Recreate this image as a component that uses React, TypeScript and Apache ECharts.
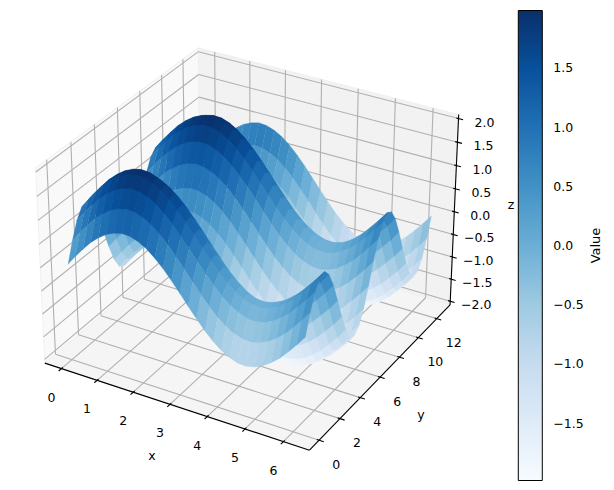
import { useEffect, useRef } from 'react';
import * as echarts from 'echarts';

const xValues = [0, 0.217, 0.433, 0.65, 0.867, 1.083, 1.3, 1.517, 1.733, 1.95, 2.167, 2.383, 2.6, 2.817, 3.033, 3.25, 3.467, 3.683, 3.9, 4.117, 4.333, 4.55, 4.767, 4.983, 5.2, 5.417, 5.633, 5.85, 6.067, 6.283];
const yValues = [0, 0.433, 0.867, 1.3, 1.733, 2.167, 2.6, 3.033, 3.467, 3.9, 4.333, 4.767, 5.2, 5.633, 6.067, 6.5, 6.933, 7.367, 7.8, 8.233, 8.667, 9.1, 9.533, 9.967, 10.4, 10.833, 11.267, 11.7, 12.133, 12.566];

// one row per y value, one column per x value
const zValues = [
  [0, .22, .42, .61, .76, .88, .96, 1, .99, .93, .83, .69, .52, .32, .11, -.11, -.32, -.52, -.69, -.83, -.93, -.99, -1, -.96, -.88, -.76, -.61, -.42, -.22, 0],
  [.42, .64, .84, 1.03, 1.18, 1.3, 1.38, 1.42, 1.41, 1.35, 1.25, 1.11, .94, .74, .53, .31, .1, -.1, -.27, -.41, -.51, -.57, -.58, -.54, -.46, -.34, -.19, 0, .2, .42],
  [.76, .98, 1.18, 1.37, 1.52, 1.64, 1.72, 1.76, 1.75, 1.69, 1.59, 1.45, 1.28, 1.08, .87, .65, .44, .24, .07, -.07, -.17, -.23, -.24, -.2, -.12, 0, .15, .34, .54, .76],
  [.96, 1.18, 1.38, 1.57, 1.72, 1.84, 1.92, 1.96, 1.95, 1.89, 1.79, 1.65, 1.48, 1.28, 1.07, .85, .64, .44, .27, .13, .03, -.03, -.04, 0, .08, .2, .35, .54, .74, .96],
  [.99, 1.21, 1.41, 1.6, 1.75, 1.87, 1.95, 1.99, 1.98, 1.92, 1.82, 1.68, 1.51, 1.31, 1.1, .88, .67, .47, .3, .16, .06, 0, -.01, .03, .11, .23, .38, .57, .77, .99],
  [.83, 1.05, 1.25, 1.44, 1.59, 1.71, 1.79, 1.83, 1.82, 1.76, 1.66, 1.52, 1.35, 1.15, .94, .72, .51, .31, .14, 0, -.1, -.16, -.17, -.13, -.05, .07, .22, .41, .61, .83],
  [.52, .74, .94, 1.13, 1.28, 1.4, 1.48, 1.52, 1.51, 1.45, 1.35, 1.21, 1.04, .84, .63, .41, .2, 0, -.17, -.31, -.41, -.47, -.48, -.44, -.36, -.24, -.09, .1, .3, .52],
  [.11, .33, .53, .72, .87, .99, 1.07, 1.11, 1.1, 1.04, .94, .8, .63, .43, .22, 0, -.21, -.41, -.58, -.72, -.82, -.88, -.89, -.85, -.77, -.65, -.5, -.31, -.11, .11],
  [-.32, -.1, .1, .29, .44, .56, .64, .68, .67, .61, .51, .37, .2, 0, -.21, -.43, -.64, -.84, -1.01, -1.15, -1.25, -1.31, -1.32, -1.28, -1.2, -1.08, -.93, -.74, -.54, -.32],
  [-.69, -.47, -.27, -.08, .07, .19, .27, .31, .3, .24, .14, 0, -.17, -.37, -.58, -.8, -1.01, -1.21, -1.38, -1.52, -1.62, -1.68, -1.69, -1.65, -1.57, -1.45, -1.3, -1.11, -.91, -.69],
  [-.93, -.71, -.51, -.32, -.17, -.05, .03, .07, .06, 0, -.1, -.24, -.41, -.61, -.82, -1.04, -1.25, -1.45, -1.62, -1.76, -1.86, -1.92, -1.93, -1.89, -1.81, -1.69, -1.54, -1.35, -1.15, -.93],
  [-1, -.78, -.58, -.39, -.24, -.12, -.04, 0, -.01, -.07, -.17, -.31, -.48, -.68, -.89, -1.11, -1.32, -1.52, -1.69, -1.83, -1.93, -1.99, -2, -1.96, -1.88, -1.76, -1.61, -1.42, -1.22, -1],
  [-.88, -.66, -.46, -.27, -.12, 0, .08, .12, .11, .05, -.05, -.19, -.36, -.56, -.77, -.99, -1.2, -1.4, -1.57, -1.71, -1.81, -1.87, -1.88, -1.84, -1.76, -1.64, -1.49, -1.3, -1.1, -.88],
  [-.61, -.39, -.19, 0, .15, .27, .35, .39, .38, .32, .22, .08, -.09, -.29, -.5, -.72, -.93, -1.13, -1.3, -1.44, -1.54, -1.6, -1.61, -1.57, -1.49, -1.37, -1.22, -1.03, -.83, -.61],
  [-.22, 0, .2, .39, .54, .66, .74, .78, .77, .71, .61, .47, .3, .1, -.11, -.33, -.54, -.74, -.91, -1.05, -1.15, -1.21, -1.22, -1.18, -1.1, -.98, -.83, -.64, -.44, -.22],
  [.22, .44, .64, .83, .98, 1.1, 1.18, 1.22, 1.21, 1.15, 1.05, .91, .74, .54, .33, .11, -.1, -.3, -.47, -.61, -.71, -.77, -.78, -.74, -.66, -.54, -.39, -.2, 0, .22],
  [.61, .83, 1.03, 1.22, 1.37, 1.49, 1.57, 1.61, 1.6, 1.54, 1.44, 1.3, 1.13, .93, .72, .5, .29, .09, -.08, -.22, -.32, -.38, -.39, -.35, -.27, -.15, 0, .19, .39, .61],
  [.88, 1.1, 1.3, 1.49, 1.64, 1.76, 1.84, 1.88, 1.87, 1.81, 1.71, 1.57, 1.4, 1.2, .99, .77, .56, .36, .19, .05, -.05, -.11, -.12, -.08, 0, .12, .27, .46, .66, .88],
  [1, 1.22, 1.42, 1.61, 1.76, 1.88, 1.96, 2, 1.99, 1.93, 1.83, 1.69, 1.52, 1.32, 1.11, .89, .68, .48, .31, .17, .07, .01, 0, .04, .12, .24, .39, .58, .78, 1],
  [.93, 1.15, 1.35, 1.54, 1.69, 1.81, 1.89, 1.93, 1.92, 1.86, 1.76, 1.62, 1.45, 1.25, 1.04, .82, .61, .41, .24, .1, 0, -.06, -.07, -.03, .05, .17, .32, .51, .71, .93],
  [.69, .91, 1.11, 1.3, 1.45, 1.57, 1.65, 1.69, 1.68, 1.62, 1.52, 1.38, 1.21, 1.01, .8, .58, .37, .17, 0, -.14, -.24, -.3, -.31, -.27, -.19, -.07, .08, .27, .47, .69],
  [.32, .54, .74, .93, 1.08, 1.2, 1.28, 1.32, 1.31, 1.25, 1.15, 1.01, .84, .64, .43, .21, 0, -.2, -.37, -.51, -.61, -.67, -.68, -.64, -.56, -.44, -.29, -.1, .1, .32],
  [-.11, .11, .31, .5, .65, .77, .85, .89, .88, .82, .72, .58, .41, .21, 0, -.22, -.43, -.63, -.8, -.94, -1.04, -1.1, -1.11, -1.07, -.99, -.87, -.72, -.53, -.33, -.11],
  [-.52, -.3, -.1, .09, .24, .36, .44, .48, .47, .41, .31, .17, 0, -.2, -.41, -.63, -.84, -1.04, -1.21, -1.35, -1.45, -1.51, -1.52, -1.48, -1.4, -1.28, -1.13, -.94, -.74, -.52],
  [-.83, -.61, -.41, -.22, -.07, .05, .13, .17, .16, .1, 0, -.14, -.31, -.51, -.72, -.94, -1.15, -1.35, -1.52, -1.66, -1.76, -1.82, -1.83, -1.79, -1.71, -1.59, -1.44, -1.25, -1.05, -.83],
  [-.99, -.77, -.57, -.38, -.23, -.11, -.03, .01, 0, -.06, -.16, -.3, -.47, -.67, -.88, -1.1, -1.31, -1.51, -1.68, -1.82, -1.92, -1.98, -1.99, -1.95, -1.87, -1.75, -1.6, -1.41, -1.21, -.99],
  [-.96, -.74, -.54, -.35, -.2, -.08, 0, .04, .03, -.03, -.13, -.27, -.44, -.64, -.85, -1.07, -1.28, -1.48, -1.65, -1.79, -1.89, -1.95, -1.96, -1.92, -1.84, -1.72, -1.57, -1.38, -1.18, -.96],
  [-.76, -.54, -.34, -.15, 0, .12, .2, .24, .23, .17, .07, -.07, -.24, -.44, -.65, -.87, -1.08, -1.28, -1.45, -1.59, -1.69, -1.75, -1.76, -1.72, -1.64, -1.52, -1.37, -1.18, -.98, -.76],
  [-.42, -.2, 0, .19, .34, .46, .54, .58, .57, .51, .41, .27, .1, -.1, -.31, -.53, -.74, -.94, -1.11, -1.25, -1.35, -1.41, -1.42, -1.38, -1.3, -1.18, -1.03, -.84, -.64, -.42],
  [0, .22, .42, .61, .76, .88, .96, 1, .99, .93, .83, .69, .52, .32, .11, -.11, -.32, -.52, -.69, -.83, -.93, -.99, -1, -.96, -.88, -.76, -.61, -.42, -.22, 0],
];

const xTicks = [0, 1, 2, 3, 4, 5, 6];
const yTicks = [0, 2, 4, 6, 8, 10, 12];
const zTicks = [-2, -1.5, -1, -0.5, 0, 0.5, 1, 1.5, 2];
const colorbarTicks = [-1.5, -1, -0.5, 0, 0.5, 1, 1.5];

const blues = ['#f7fbff', '#deebf7', '#c6dbef', '#9ecae1', '#6baed6', '#4292c6', '#2171b5', '#08519c', '#08306b'];
const zMin = -1.985;
const zMax = 1.985;

// box limits of the 3d axes
const xLim = [-0.47, 6.67];
const yLim = [-0.908, 13.474];
const zLim = [-2.083, 2.083];

// same camera as a default mplot3d view: elev 30, azim -60, dist 10
const boxHalf = [0.5952, 0.5952, 0.4333];
const camU = [0.866, 0.5, 0];
const camV = [-0.25, 0.433, 0.866];
const camW = [0.433, -0.75, 0.5];
const dist = 10;

type P3 = [number, number, number];

const toBox = (p: P3): P3 => [
  ((p[0] - xLim[0]) / (xLim[1] - xLim[0]) - 0.5) * 2 * boxHalf[0],
  ((p[1] - yLim[0]) / (yLim[1] - yLim[0]) - 0.5) * 2 * boxHalf[1],
  ((p[2] - zLim[0]) / (zLim[1] - zLim[0]) - 0.5) * 2 * boxHalf[2],
];
const dot = (a: number[], b: number[]) => a[0] * b[0] + a[1] * b[1] + a[2] * b[2];
const depth = (p: P3) => dot(toBox(p), camW);

// 3d point to page pixels (the pixel axes below run over the whole page)
const project = (p: P3): number[] => {
  const q = toBox(p);
  const d = dist - dot(q, camW);
  return [251.2 + (2545 * dot(q, camU)) / d, 239.2 - (2567 * dot(q, camV)) / d];
};

const colorOf = (z: number) => echarts.color.lerp((z - zMin) / (zMax - zMin), blues) as string;

// facets, far ones first
const facets: number[][] = [];
for (let j = 0; j < yValues.length - 1; j++) {
  for (let i = 0; i < xValues.length - 1; i++) {
    facets.push([i, j, (zValues[j][i] + zValues[j][i + 1] + zValues[j + 1][i] + zValues[j + 1][i + 1]) / 4]);
  }
}
const facetDepth = (f: number[]) =>
  depth([(xValues[f[0]] + xValues[f[0] + 1]) / 2, (yValues[f[1]] + yValues[f[1] + 1]) / 2, f[2]]);
facets.sort((a, b) => facetDepth(a) - facetDepth(b));

const [xLo, xHi] = xLim;
const [yLo, yHi] = yLim;
const [zLo, zHi] = zLim;
const dx = (xHi - xLo) / 12;
const dy = (yHi - yLo) / 12;

const panes: { pts: P3[]; color: string }[] = [
  { pts: [[xLo, yLo, zLo], [xLo, yHi, zLo], [xLo, yHi, zHi], [xLo, yLo, zHi]], color: '#f9f9f9' },
  { pts: [[xLo, yHi, zLo], [xHi, yHi, zLo], [xHi, yHi, zHi], [xLo, yHi, zHi]], color: '#f2f2f2' },
  { pts: [[xLo, yLo, zLo], [xHi, yLo, zLo], [xHi, yHi, zLo], [xLo, yHi, zLo]], color: '#f5f5f5' },
];

const gridLines: P3[][] = [
  ...xTicks.flatMap((t): P3[][] => [[[t, yLo, zLo], [t, yHi, zLo]], [[t, yHi, zLo], [t, yHi, zHi]]]),
  ...yTicks.flatMap((t): P3[][] => [[[xLo, t, zLo], [xHi, t, zLo]], [[xLo, t, zLo], [xLo, t, zHi]]]),
  ...zTicks.flatMap((t): P3[][] => [[[xLo, yLo, t], [xLo, yHi, t]], [[xLo, yHi, t], [xHi, yHi, t]]]),
];
const axisLines: P3[][] = [
  [[xLo, yLo, zLo], [xHi, yLo, zLo]],
  [[xHi, yLo, zLo], [xHi, yHi, zLo]],
  [[xHi, yHi, zLo], [xHi, yHi, zHi]],
  ...xTicks.map((t): P3[] => [[t, yLo - 0.2 * dy, zLo], [t, yLo + 0.1 * dy, zLo]]),
  ...yTicks.map((t): P3[] => [[xHi + 0.2 * dx, t, zLo], [xHi - 0.1 * dx, t, zLo]]),
  ...zTicks.map((t): P3[] => [[xHi + 0.2 * dx, yHi, t], [xHi - 0.1 * dx, yHi, t]]),
];

const fontFamily = 'DejaVu Sans';
const fontSize = 12.5;

const labels: { text: string; at: P3; off: number[] }[] = [
  ...xTicks.map((t) => ({ text: String(t), at: [t, yLo, zLo] as P3, off: [-10, 28.5] })),
  ...yTicks.map((t) => ({ text: String(t), at: [xHi, t, zLo] as P3, off: [17, 24] })),
  ...zTicks.map((t) => ({ text: t.toFixed(1).replace('-', '\u2212'), at: [xHi, yHi, t] as P3, off: [26, 3.5] })),
];
const axisNames = [
  { text: 'x', pos: [152, 455] },
  { text: 'y', pos: [421, 414] },
  { text: 'z', pos: [511, 204] },
];

export default function App() {
  const chartRef = useRef<HTMLDivElement>(null);

  useEffect(() => {
    if (!chartRef.current) return;
    const chart = echarts.init(chartRef.current, undefined, { renderer: 'svg' });

    const segmentSeries = (segments: P3[][], color: string, width: number) => ({
      type: 'custom',
      coordinateSystem: 'cartesian2d',
      xAxisIndex: 0,
      yAxisIndex: 0,
      silent: true,
      clip: false,
      data: segments.map((_, k) => [k]),
      renderItem: (_: any, api: any) => {
        const seg = segments[api.value(0)];
        const a = api.coord(project(seg[0]));
        const b = api.coord(project(seg[1]));
        return {
          type: 'line',
          shape: { x1: a[0], y1: a[1], x2: b[0], y2: b[1] },
          style: { stroke: color, lineWidth: width, fill: 'none' },
        };
      },
    });

    chart.setOption({
      animation: false,
      backgroundColor: '#ffffff',
      grid: [
        { left: 0, top: 0, width: 614, height: 490, show: false },
        { left: 518.3, top: 10.5, width: 24, height: 470, show: true, borderColor: '#000', borderWidth: 1, z: 5 },
      ],
      xAxis: [
        { type: 'value', gridIndex: 0, min: 0, max: 614, show: false },
        { type: 'value', gridIndex: 1, min: 0, max: 1, show: false },
      ],
      yAxis: [
        { type: 'value', gridIndex: 0, min: 0, max: 490, inverse: true, show: false },
        {
          type: 'value',
          gridIndex: 1,
          min: zMin,
          max: zMax,
          position: 'right',
          name: 'Value',
          nameLocation: 'middle',
          nameRotate: 90,
          nameGap: 47,
          nameTextStyle: { fontFamily, fontSize: 13, color: '#000' },
          axisLine: { show: false },
          splitLine: { show: false },
          axisTick: { show: true, length: 5, lineStyle: { color: '#000', width: 1 }, customValues: colorbarTicks },
          axisLabel: {
            show: true,
            margin: 11,
            fontFamily,
            fontSize,
            color: '#000',
            customValues: colorbarTicks,
            formatter: (v: number) => v.toFixed(1).replace('-', '\u2212'),
          },
        },
      ],
      series: [
        {
          type: 'custom',
          coordinateSystem: 'cartesian2d',
          xAxisIndex: 0,
          yAxisIndex: 0,
          silent: true,
          clip: false,
          data: panes.map((_, k) => [k]),
          renderItem: (_: any, api: any) => {
            const pane = panes[api.value(0)];
            return {
              type: 'polygon',
              shape: { points: pane.pts.map((p) => api.coord(project(p))) },
              style: { fill: pane.color, stroke: '#f0f0f0', lineWidth: 1 },
            };
          },
        },
        segmentSeries(gridLines, '#b0b0b0', 1.1),
        segmentSeries(axisLines, '#000000', 1.1),
        {
          type: 'custom',
          coordinateSystem: 'cartesian2d',
          xAxisIndex: 0,
          yAxisIndex: 0,
          silent: true,
          clip: false,
          progressive: 0,
          data: facets,
          renderItem: (_: any, api: any) => {
            const i = api.value(0);
            const j = api.value(1);
            const corners: P3[] = [
              [xValues[i], yValues[j], zValues[j][i]],
              [xValues[i + 1], yValues[j], zValues[j][i + 1]],
              [xValues[i + 1], yValues[j + 1], zValues[j + 1][i + 1]],
              [xValues[i], yValues[j + 1], zValues[j + 1][i]],
            ];
            const fill = colorOf(api.value(2));
            return {
              type: 'polygon',
              shape: { points: corners.map((p) => api.coord(project(p))) },
              style: { fill, stroke: fill, lineWidth: 0.25 },
            };
          },
        },
        {
          type: 'custom',
          coordinateSystem: 'cartesian2d',
          xAxisIndex: 0,
          yAxisIndex: 0,
          silent: true,
          clip: false,
          data: labels.map((_, k) => [k]),
          renderItem: (_: any, api: any) => {
            const l = labels[api.value(0)];
            const p = api.coord(project(l.at));
            return {
              type: 'text',
              x: p[0] + l.off[0],
              y: p[1] + l.off[1],
              style: { text: l.text, fontFamily, fontSize, fill: '#000', align: 'center', verticalAlign: 'middle' },
            };
          },
        },
        {
          type: 'custom',
          coordinateSystem: 'cartesian2d',
          xAxisIndex: 0,
          yAxisIndex: 0,
          silent: true,
          clip: false,
          data: axisNames.map((n) => n.pos),
          renderItem: (params: any, api: any) => {
            const p = api.coord([api.value(0), api.value(1)]);
            return {
              type: 'text',
              x: p[0],
              y: p[1],
              style: {
                text: axisNames[params.dataIndex].text,
                fontFamily,
                fontSize,
                fill: '#000',
                align: 'center',
                verticalAlign: 'middle',
              },
            };
          },
        },
        {
          // colorbar
          type: 'custom',
          coordinateSystem: 'cartesian2d',
          xAxisIndex: 1,
          yAxisIndex: 1,
          silent: true,
          data: [[0, zMax, 1, zMin]],
          renderItem: (_: any, api: any) => {
            const a = api.coord([api.value(0), api.value(1)]);
            const b = api.coord([api.value(2), api.value(3)]);
            return {
              type: 'rect',
              shape: { x: a[0], y: a[1], width: b[0] - a[0], height: b[1] - a[1] },
              style: {
                fill: new echarts.graphic.LinearGradient(
                  0,
                  1,
                  0,
                  0,
                  blues.map((color, k) => ({ offset: k / (blues.length - 1), color }))
                ),
              },
            };
          },
        },
      ],
    });

    return () => {
      chart.dispose();
    };
  }, []);

  return <div ref={chartRef} style={{ position: 'fixed', left: 0, top: 0, width: 614, height: 490 }}></div>;
}
